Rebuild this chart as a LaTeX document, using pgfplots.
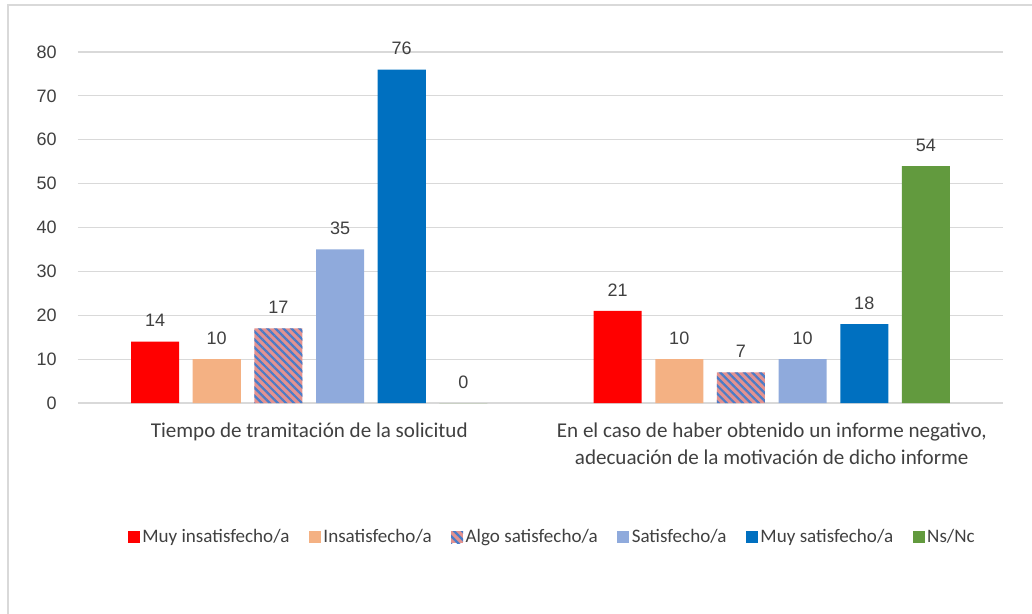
\documentclass[border=0pt]{standalone}
\usepackage{pgfplots}
\pgfplotsset{compat=1.18}
\usepackage{fontspec}
\setmainfont{Carlito}
\newfontfamily\arialf{Liberation Sans}
\usetikzlibrary{patterns.meta}
\definecolor{cRed}{HTML}{FF0000}
\definecolor{cPeach}{HTML}{F4B183}
\definecolor{cPink}{HTML}{E4928F}
\definecolor{cHatch}{HTML}{4A7CC8}
\definecolor{cLight}{HTML}{8FAADC}
\definecolor{cBlue}{HTML}{0070C0}
\definecolor{cGreen}{HTML}{629A3E}
\definecolor{cGrid}{HTML}{D9D9D9}
\definecolor{cText}{HTML}{404040}
\definecolor{cFrame}{HTML}{D9D9D9}
\begin{document}
\begin{tikzpicture}
\begin{axis}[
  at={(0,0)}, anchor=south west,
  scale only axis,
  width=693.75pt, height=263.25pt,
  xmin=-0.5, xmax=1.5, ymin=0, ymax=80,
  ytick={0,10,...,80},
  xtick={0,1},
  xticklabels={Tiempo de tramitación de la solicitud, {En el caso de haber obtenido un informe negativo,\\adecuación de la motivación de dicho informe}},
  xticklabel style={align=center, font=\fontsize{15.8}{20.25}\selectfont, text=cText, inner sep=0pt, anchor=north, yshift=-14.5pt},
  yticklabel style={font=\arialf\fontsize{13.5}{15}\selectfont, text=cText, inner sep=0pt, anchor=east, xshift=-15.75pt},
  /pgf/number format/assume math mode=true,
  major tick length=0pt,
  axis line style={draw=none},
  ymajorgrids, grid style={cGrid, line width=0.8pt},
  ybar, bar width=0.1038, bar shift=0pt,
  nodes near coords,
  every node near coord/.append style={font=\arialf\fontsize{13.5}{15}\selectfont, text=cText, anchor=center, yshift=15.75pt, inner sep=0pt},
  legend columns=6,
  legend style={at={(rel axis cs:0.513,-0.3818)}, anchor=center, draw=none, fill=none,
    font=\fontsize{14.3}{17}\selectfont, text=cText,
    /tikz/every even column/.append style={column sep=12.5pt},
    nodes={inner sep=2pt}},
  legend image code/.code={\path[#1, draw=none] (0pt,-4.5pt) rectangle (9pt,4.5pt);},
]
\addplot[fill=cRed, draw=none] coordinates {(-0.3333,14) (0.6667,21)};
\addlegendentry{Muy insatisfecho/a}
\addplot[fill=cPeach, draw=none] coordinates {(-0.2,10) (0.8,10)};
\addlegendentry{Insatisfecho/a}
\addplot[fill=cPink, draw=none, postaction={pattern={Lines[angle=-45, distance=4.25pt, line width=1.7pt]}, pattern color=cHatch}] coordinates {(-0.0667,17) (0.9333,7)};
\addlegendentry{Algo satisfecho/a}
\addplot[fill=cLight, draw=none] coordinates {(0.0667,35) (1.0667,10)};
\addlegendentry{Satisfecho/a}
\addplot[fill=cBlue, draw=none] coordinates {(0.2,76) (1.2,18)};
\addlegendentry{Muy satisfecho/a}
\addplot[fill=cGreen, draw=none] coordinates {(0.3333,0) (1.3333,54)};
\addlegendentry{Ns/Nc}
\end{axis}
\begin{scope}
\clip (-58.5pt,-158.25pt) rectangle (715.5pt,302.25pt);
\draw[cFrame, line width=1pt] (-52.5pt,-200pt) rectangle (760pt,298.5pt);
\end{scope}
\pgfresetboundingbox
\useasboundingbox (-58.5pt,-158.25pt) rectangle (715.5pt,302.25pt);
\end{tikzpicture}
\end{document}
